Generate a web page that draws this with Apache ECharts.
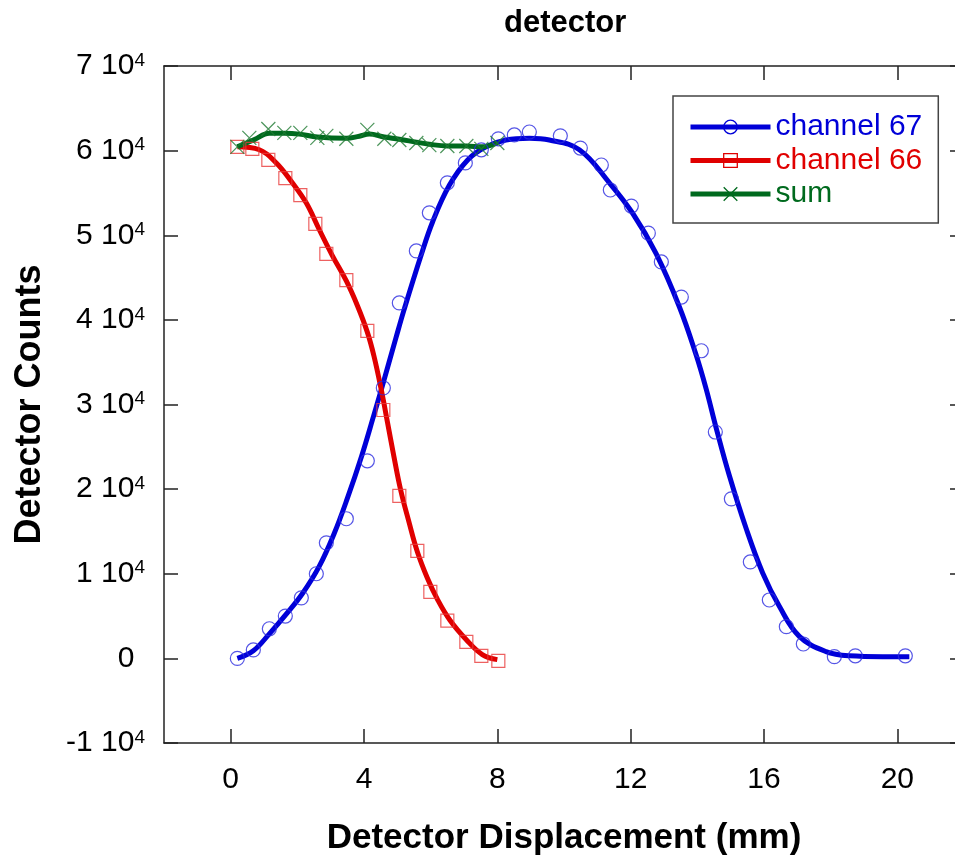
<!DOCTYPE html>
<html>
<head>
<meta charset="utf-8">
<script src="https://cdn.jsdelivr.net/npm/echarts@6/dist/echarts.min.js"></script>
<style>
html, body { margin: 0; padding: 0; background: #fff; }
#main { width: 955px; height: 862px; }
</style>
</head>
<body>
<div id="main"></div>
<script>
// measured points (markers)
var ch67X = [0.20, 0.68, 1.16, 1.64, 2.12, 2.57, 2.87, 3.47, 4.10, 4.58, 5.06, 5.57, 5.96, 6.50, 7.04, 7.52, 8.03, 8.51, 8.96, 9.89,
	10.49, 11.12, 11.39, 12.02, 12.53, 12.92, 13.52, 14.12, 14.54, 15.02, 15.59, 16.16, 16.67, 17.18, 18.11, 18.74, 20.24];
var ch67Y = [0, 1000, 3500, 5000, 7150, 10000, 13650, 16500, 23350, 31950, 42000, 48150, 52650, 56200, 58550, 60100, 61400, 61850, 62200, 61750,
	60300, 58300, 55350, 53450, 50250, 46850, 42700, 36350, 26750, 18850, 11400, 6900, 3750, 1700, 200, 300, 300];

var ch66X = [0.20, 0.65, 1.13, 1.64, 2.09, 2.54, 2.87, 3.47, 4.10, 4.58, 5.06, 5.60, 5.99, 6.50, 7.07, 7.52, 8.03];
var ch66Y = [60450, 60200, 58900, 56750, 54750, 51350, 47800, 44700, 38700, 29350, 19200, 12700, 7850, 4450, 1950, 300, -300];

var sumX = [0.20, 0.56, 1.13, 1.61, 2.09, 2.60, 2.87, 3.47, 4.10, 4.61, 5.06, 5.57, 5.96, 6.50, 7.07, 7.52, 8.00];
var sumY = [60450, 61500, 62550, 62100, 62100, 61500, 61750, 61400, 62450, 61400, 61250, 60900, 60650, 60550, 60550, 60200, 60900];

// fitted curves
var fit67X = [0.20, 0.68, 1.16, 1.66, 2.16, 2.66, 3.10, 3.50, 3.92, 4.30, 4.53, 4.96, 5.21, 5.71, 6.06, 6.56, 7.11, 7.66, 8.26, 8.96, 9.56, 10.46,
	11.36, 12.06, 12.76, 13.46, 13.96, 14.26, 14.56, 14.96, 15.46, 15.96, 16.46, 17.06, 17.86, 18.56, 19.56, 20.36];
var fit67Y = [0, 900, 2900, 5200, 7700, 10900, 14700, 18900, 23800, 28800, 31900, 37900, 41300, 47600, 51600, 55900, 58900, 60450, 61250, 61450, 61250, 60100,
	56200, 52600, 47850, 41550, 35900, 31900, 27300, 21600, 15400, 10100, 6150, 2600, 800, 300, 200, 200];

var fit66X = [0.20, 0.86, 1.37, 1.85, 2.27, 2.66, 3.05, 3.47, 3.80, 4.10, 4.30, 4.52, 4.70, 4.90, 5.10, 5.35, 5.60, 5.90, 6.20, 6.58, 7.07, 7.55, 8.00];
var fit66Y = [60450, 60100, 58550, 56200, 53800, 50650, 47600, 44600, 41700, 38550, 35700, 31700, 28000, 23800, 19900, 16100, 12600, 9500, 7000, 4500, 2200, 450, -150];

var fitSumX = [0.20, 0.71, 1.16, 1.61, 2.06, 2.60, 3.47, 3.86, 4.16, 4.61, 5.06, 5.57, 5.96, 6.50, 7.07, 7.52, 8.00];
var fitSumY = [60450, 61300, 62050, 62050, 61950, 61600, 61450, 61700, 61950, 61600, 61350, 61000, 60750, 60550, 60550, 60450, 60900];

var xTicks = [0, 4, 8, 12, 16, 20];

var blue = '#0000d8', red = '#e00000', green = '#006a1e';
var font = 'Liberation Sans, Arial, Helvetica, sans-serif';

function pairs (xs, ys) {
	return xs.map(function (x, i) { return [x, ys[i]]; });
}

var myChart = echarts.init(document.getElementById('main'));

var tickStyle = { color: '#222', width: 1.5 };

var option = {
	animation: false,
	backgroundColor: '#fff',
	title: {
		text: 'detector',
		left: 499,
		top: 3,
		textStyle: { fontFamily: font, fontSize: 31, fontWeight: 'bold', color: '#000' }
	},
	legend: {
		orient: 'vertical',
		left: 673,
		top: 96,
		padding: [16, 16, 14, 15],
		itemGap: 3.5,
		itemWidth: 80,
		itemHeight: 17,
		borderColor: '#444',
		borderWidth: 1.5,
		backgroundColor: '#fff',
		textStyle: { fontFamily: font, fontSize: 30 },
		data: [
			{ name: 'channel 67', textStyle: { color: blue }, itemStyle: { color: 'rgba(0,0,0,0)', borderColor: blue, borderWidth: 1.3 }, lineStyle: { width: 5, color: blue } },
			{ name: 'channel 66', textStyle: { color: red }, itemStyle: { color: 'rgba(0,0,0,0)', borderColor: red, borderWidth: 1.3 }, lineStyle: { width: 5, color: red } },
			{ name: 'sum', textStyle: { color: green }, itemStyle: { color: 'rgba(0,0,0,0)', borderColor: green, borderWidth: 1.3 }, lineStyle: { width: 5, color: green } }
		]
	},
	// right edge of the frame lies just outside the picture
	grid: { left: 164, top: 66, width: 800, height: 677, outerBoundsMode: 'none', containLabel: false },
	xAxis: [{
		type: 'value',
		min: -2,
		max: 22,
		name: 'Detector Displacement (mm)',
		nameLocation: 'middle',
		nameGap: 78,
		nameTextStyle: { fontFamily: font, fontSize: 35, fontWeight: 'bold', color: '#000' },
		axisLine: { onZero: false, lineStyle: tickStyle },
		axisTick: { inside: true, length: 14, lineStyle: tickStyle, customValues: xTicks },
		axisLabel: { fontFamily: font, fontSize: 30, color: '#000', margin: 22, customValues: xTicks },
		splitLine: { show: false }
	}, {
		type: 'value',
		position: 'top',
		min: -2,
		max: 22,
		axisLine: { onZero: false, lineStyle: tickStyle },
		axisTick: { inside: true, length: 14, lineStyle: tickStyle, customValues: xTicks },
		axisLabel: { show: false },
		splitLine: { show: false }
	}],
	yAxis: [{
		type: 'value',
		min: -10000,
		max: 70000,
		interval: 10000,
		name: 'Detector Counts',
		nameLocation: 'middle',
		nameGap: 116,
		nameTextStyle: { fontFamily: font, fontSize: 36, fontWeight: 'bold', color: '#000' },
		axisLine: { show: true, onZero: false, lineStyle: tickStyle },
		axisTick: { show: true, inside: true, length: 14, lineStyle: tickStyle },
		axisLabel: {
			fontFamily: font, fontSize: 30, color: '#000', margin: 19,
			formatter: function (v) {
				if (v === 0) return '0{g|4}';
				return (v / 10000) + ' 10{s|4}';
			},
			rich: {
				s: { fontFamily: font, fontSize: 19, color: '#000', verticalAlign: 'top', lineHeight: 14 },
				g: { fontFamily: font, fontSize: 19, color: 'rgba(0,0,0,0)', verticalAlign: 'top', lineHeight: 14 }
			}
		},
		splitLine: { show: false }
	}, {
		type: 'value',
		position: 'right',
		min: -10000,
		max: 70000,
		interval: 10000,
		axisLine: { show: true, onZero: false, lineStyle: tickStyle },
		axisTick: { show: true, inside: true, length: 14, lineStyle: tickStyle },
		axisLabel: { show: false },
		splitLine: { show: false }
	}],
	series: [
		{
			name: 'channel 67', type: 'line', data: pairs(fit67X, fit67Y),
			smooth: 0.4, showSymbol: false, symbol: 'circle',
			lineStyle: { width: 5, color: blue }, itemStyle: { color: blue }, z: 2
		},
		{
			name: 'channel 66', type: 'line', data: pairs(fit66X, fit66Y),
			smooth: 0.4, showSymbol: false, symbol: 'rect',
			lineStyle: { width: 5, color: red }, itemStyle: { color: red }, z: 2
		},
		{
			name: 'sum', type: 'line', data: pairs(fitSumX, fitSumY),
			smooth: 0.4, showSymbol: false, symbol: 'path://M0,0L10,10M10,0L0,10',
			lineStyle: { width: 5, color: green }, itemStyle: { color: green }, z: 2
		},
		{
			name: 'ch67 points', type: 'scatter', data: pairs(ch67X, ch67Y),
			symbol: 'circle', symbolSize: 14,
			itemStyle: { color: 'rgba(0,0,0,0)', borderColor: '#2a2ae0', borderWidth: 1.2 }, z: 3
		},
		{
			name: 'ch66 points', type: 'scatter', data: pairs(ch66X, ch66Y),
			symbol: 'rect', symbolSize: 13,
			itemStyle: { color: 'rgba(0,0,0,0)', borderColor: '#e83a3a', borderWidth: 1.2 }, z: 3
		},
		{
			name: 'sum points', type: 'scatter', data: pairs(sumX, sumY),
			symbol: 'path://M0,0L10,10M10,0L0,10', symbolSize: 14,
			itemStyle: { color: 'rgba(0,0,0,0)', borderColor: '#1f7a32', borderWidth: 1.2 }, z: 3
		}
	]
};

myChart.setOption(option);
</script>
</body>
</html>
